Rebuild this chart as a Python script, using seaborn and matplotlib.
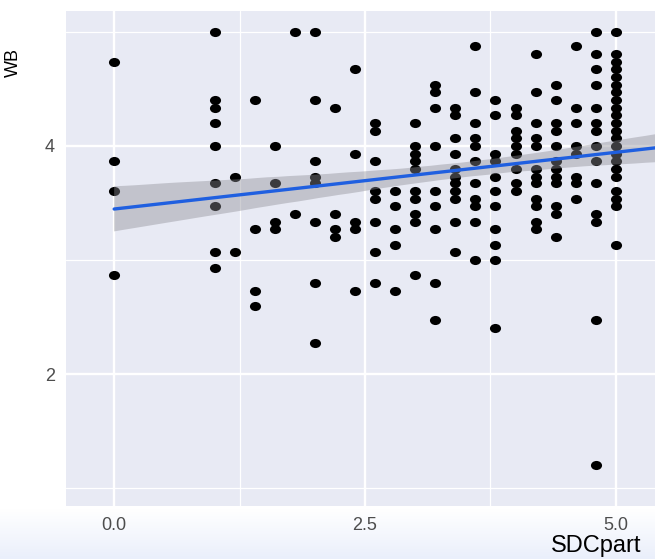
import numpy as np
import pandas as pd
import matplotlib
matplotlib.use("Agg")
import matplotlib.pyplot as plt
from matplotlib.path import Path
from matplotlib.transforms import Affine2D
from matplotlib.collections import PolyCollection
import seaborn as sns

# Participation score (x) and well-being score (y), one entry per respondent
sdcpart = [
    0.0, 0.0, 0.0, 0.0,
    1.0, 1.0, 1.0, 1.0, 1.0, 1.0, 1.0, 1.0, 1.0,
    1.2, 1.2,
    1.4, 1.4, 1.4, 1.4,
    1.6, 1.6, 1.6, 1.6,
    1.8, 1.8,
    2.0, 2.0, 2.0, 2.0, 2.0, 2.0, 2.0, 2.0,
    2.2, 2.2, 2.2, 2.2,
    2.4, 2.4, 2.4, 2.4, 2.4,
    2.6, 2.6, 2.6, 2.6, 2.6, 2.6, 2.6, 2.6,
    2.8, 2.8, 2.8, 2.8, 2.8,
    3.0, 3.0, 3.0, 3.0, 3.0, 3.0, 3.0, 3.0, 3.0, 3.0,
    3.2, 3.2, 3.2, 3.2, 3.2, 3.2, 3.2, 3.2, 3.2,
    3.4, 3.4, 3.4, 3.4, 3.4, 3.4, 3.4, 3.4, 3.4, 3.4, 3.4,
    3.6, 3.6, 3.6, 3.6, 3.6, 3.6, 3.6, 3.6, 3.6, 3.6, 3.6,
    3.8, 3.8, 3.8, 3.8, 3.8, 3.8, 3.8, 3.8, 3.8, 3.8, 3.8,
    4.0, 4.0, 4.0, 4.0, 4.0, 4.0, 4.0, 4.0, 4.0,
    4.2, 4.2, 4.2, 4.2, 4.2, 4.2, 4.2, 4.2, 4.2, 4.2, 4.2, 4.2,
    4.4, 4.4, 4.4, 4.4, 4.4, 4.4, 4.4, 4.4, 4.4, 4.4, 4.4, 4.4,
    4.6, 4.6, 4.6, 4.6, 4.6, 4.6, 4.6, 4.6,
    4.8, 4.8, 4.8, 4.8, 4.8, 4.8, 4.8, 4.8, 4.8, 4.8, 4.8, 4.8, 4.8, 4.8,
    5.0, 5.0, 5.0, 5.0, 5.0, 5.0, 5.0, 5.0, 5.0, 5.0, 5.0,
    5.0, 5.0, 5.0, 5.0, 5.0, 5.0, 5.0, 5.0, 5.0, 5.0, 5.0,
]
wb = [
    4.73, 3.87, 3.60, 2.87,
    5.00, 4.40, 4.33, 4.20, 4.00, 3.67, 3.47, 3.07, 2.93,
    3.73, 3.07,
    4.40, 3.27, 2.73, 2.60,
    4.00, 3.67, 3.33, 3.27,
    5.00, 3.40,
    5.00, 4.40, 3.87, 3.73, 3.67, 3.33, 2.80, 2.27,
    4.33, 3.40, 3.27, 3.20,
    4.67, 3.93, 3.33, 3.27, 2.73,
    4.20, 4.13, 3.87, 3.60, 3.53, 3.33, 3.07, 2.80,
    3.60, 3.47, 3.27, 3.13, 2.73,
    4.20, 4.00, 3.93, 3.87, 3.80, 3.60, 3.53, 3.40, 3.33, 2.87,
    4.53, 4.47, 4.33, 4.00, 3.60, 3.47, 3.27, 2.80, 2.47,
    4.33, 4.27, 4.07, 3.93, 3.80, 3.73, 3.67, 3.60, 3.53, 3.33, 3.07,
    4.87, 4.47, 4.20, 4.07, 4.00, 3.87, 3.67, 3.53, 3.47, 3.33, 3.00,
    4.40, 4.27, 3.93, 3.87, 3.73, 3.60, 3.47, 3.27, 3.13, 3.00, 2.40,
    4.33, 4.27, 4.13, 4.07, 4.00, 3.93, 3.80, 3.67, 3.60,
    4.80, 4.47, 4.20, 4.07, 4.00, 3.80, 3.73, 3.67, 3.53, 3.47, 3.33, 3.27,
    4.53, 4.40, 4.20, 4.13, 4.00, 3.87, 3.80, 3.73, 3.67, 3.47, 3.40, 3.20,
    4.87, 4.33, 4.20, 4.00, 3.93, 3.73, 3.67, 3.53,
    5.00, 4.80, 4.67, 4.53, 4.33, 4.20, 4.13, 4.00, 3.87, 3.67, 3.40, 3.33, 2.47, 1.20,
    5.00, 4.80, 4.73, 4.67, 4.60, 4.53, 4.47, 4.40, 4.33, 4.27, 4.20,
    4.13, 4.07, 4.00, 3.93, 3.87, 3.80, 3.73, 3.60, 3.53, 3.47, 3.13,
]

x_major = [0.0, 2.5, 5.0]
x_labels = ["0.0", "2.5", "5.0"]
x_minor = [1.25, 3.75, 6.25]
y_major = [2, 4]
y_labels = ["2", "4"]
y_minor = [1, 3, 5]

df = pd.DataFrame({"SDCpart": sdcpart, "WB": wb})

sns.set_theme(style="darkgrid")
plt.rcParams["font.family"] = ["Liberation Sans", "DejaVu Sans"]

W, H = 655, 559
fig = plt.figure(figsize=(W / 100, H / 100), dpi=100)
fig.patch.set_facecolor("white")

# pale wash along the bottom edge
bg = fig.add_axes([0, 0, 1, 50 / H])
bg.set_zorder(-1)
t = np.linspace(0, 1, 64)[:, None, None]
top_c = np.array([1.0, 1.0, 1.0])
bot_c = np.array([234, 239, 251]) / 255
grad = top_c * (1 - t) + bot_c * t
grad = np.repeat(grad, 4, axis=1)
bg.imshow(grad, aspect="auto", extent=[0, 1, 0, 1], origin="upper")
bg.axis("off")

# panel runs past the right edge of the canvas
x_lo, x_hi = -0.48, 10.08
px_per_unit = 100.34
left_px, top_px, bottom_px = 66, 11, 506
ax = fig.add_axes([left_px / W, (H - bottom_px) / H,
                   (x_hi - x_lo) * px_per_unit / W, (bottom_px - top_px) / H])
ax.set_facecolor("#E8EAF4")

ellipse = Path.unit_circle().transformed(Affine2D().scale(1.22, 1.0))

ax.set_xlim(0.0, x_hi)
sns.regplot(data=df, x="SDCpart", y="WB", ax=ax, truncate=False, seed=7,
            ci=85, marker=ellipse,
            scatter_kws=dict(s=64, color="black", alpha=1, linewidths=0),
            line_kws=dict(color="#1F5FE0", lw=2.4))
for coll in ax.collections:
    if isinstance(coll, PolyCollection):
        coll.set_facecolor("#8E8E96")
        coll.set_alpha(0.42)
        coll.set_edgecolor("none")

ax.set_xlim(x_lo, x_hi)
ax.set_ylim(0.845, 5.18)

ax.set_xticks(x_major)
ax.set_xticklabels(x_labels)
ax.set_xticks(x_minor, minor=True)
ax.set_yticks(y_major)
ax.set_yticklabels(y_labels)
ax.set_yticks(y_minor, minor=True)
ax.grid(which="major", color="white", lw=1.7)
ax.grid(which="minor", color="white", lw=0.9)
for s in ax.spines.values():
    s.set_visible(False)
ax.tick_params(which="major", length=4, width=1.2, color="#333333",
               labelcolor="#4D4D4D", labelsize=13, pad=4)
ax.tick_params(which="minor", length=0)

ax.set_xlabel("SDCpart", fontsize=17, color="black")
ax.xaxis.set_label_coords(0.5, -0.058)
ax.set_ylabel("WB", fontsize=13, color="black")
ax.yaxis.label.set_verticalalignment("center")
ax.yaxis.set_label_coords(13 / W, 1 - 62 / H, transform=fig.transFigure)

fig.savefig("out.png", dpi=100)
